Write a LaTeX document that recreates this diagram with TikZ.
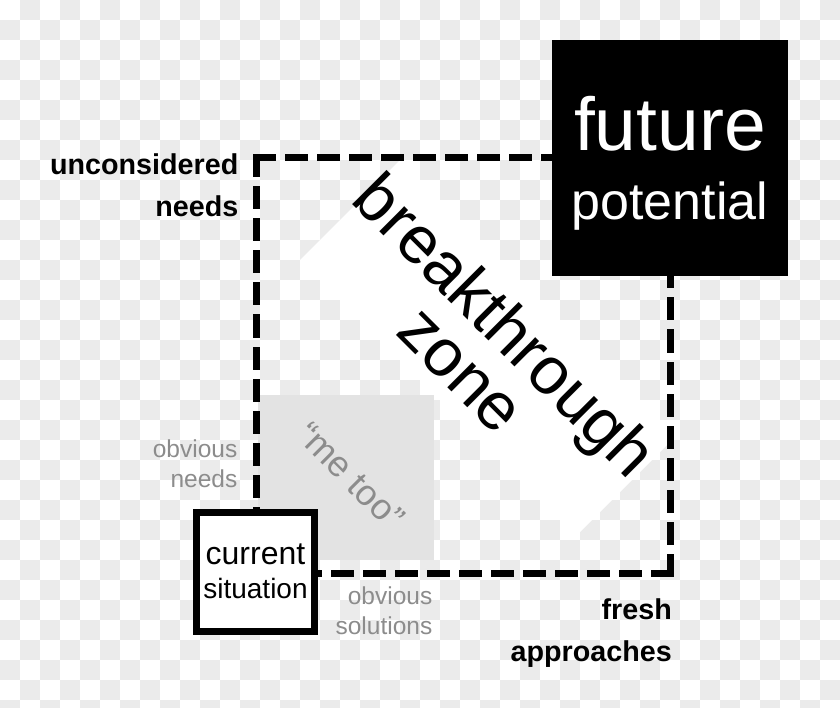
\documentclass[tikz,border=0pt]{standalone}
\usepackage{fontspec}
\setmainfont{Liberation Sans}
\usetikzlibrary{calc,positioning}

\definecolor{checker}{HTML}{EBEBEB}
\definecolor{metoo}{HTML}{E3E3E3}
\definecolor{hint}{HTML}{8C8C8C}

\begin{document}
\begin{tikzpicture}[x=1pt,y=-1pt,inner sep=0pt,
    dashline/.style={line width=7pt,dash pattern=on 16pt off 16pt,line cap=rect},
    strong/.style={font=\fontsize{28.7}{42}\selectfont\bfseries,align=right,anchor=base east},
    hintlbl/.style={text=hint,font=\fontsize{24.5}{30}\selectfont,align=right,anchor=base east}]
    \useasboundingbox (0,0) rectangle (840,708);
    \begin{scope}
      \clip (0,0) rectangle (840,708);
      \foreach \i [evaluate=\i as \s using {int(20*mod(\i+1,2))}] in {0,...,41}
        \foreach \j in {0,40,...,680}
          \fill[checker] (20*\i,\j+\s) rectangle ++(20,20);
    \end{scope}

    \coordinate (NW) at (256,158);
    \coordinate (NE) at (670,158);
    \coordinate (SE) at (670,573);
    \coordinate (SW) at (256,573);

    \fill[white] (300,260) -- (400,160) -- (676,436) -- (576,536) -- cycle;
    \fill[metoo] (258,395) rectangle (434,560);
    \node[rotate=-45,text=hint,font=\fontsize{36}{36}\selectfont] (metoo) at (351,476) {“me too”};
    \node[rotate=-45,align=center,font=\fontsize{67}{62}\selectfont] (zone) at (484.5,346.5) {breakthrough\\zone};

    \foreach \a/\b in {NW/NE,NW/SW,SE/SW,SE/NE}
      \draw[dashline] (\a)--(\b);

    \node[fill=black,minimum size=236pt] (future) at (NE) {};
    \node[text=white,font=\fontsize{75}{75}\selectfont,anchor=base] (futurelbl) at (670,151) {future};
    \node[text=white,font=\fontsize{52}{52}\selectfont,anchor=base] (potentiallbl) at (670,220) {potential};

    \node[draw,line width=7pt,fill=white,minimum width=118pt,minimum height=119pt] (current) at (255.5,572) {};
    \node[font=\fontsize{32}{32}\selectfont,anchor=base] (currentlbl) at (255.5,564) {current};
    \node[font=\fontsize{28}{28}\selectfont,anchor=base] (situationlbl) at (255.5,598) {situation};

    \node[strong] (unconsidered) at (238.5,217) {unconsidered\\needs};
    \node[hintlbl] (obvneeds) at (237.5,487) {obvious\\needs};
    \node[hintlbl] (obvsol) at (432.5,634) {obvious\\solutions};
    \node[strong] (fresh) at (672,661) {fresh\\approaches};
\end{tikzpicture}
\end{document}
